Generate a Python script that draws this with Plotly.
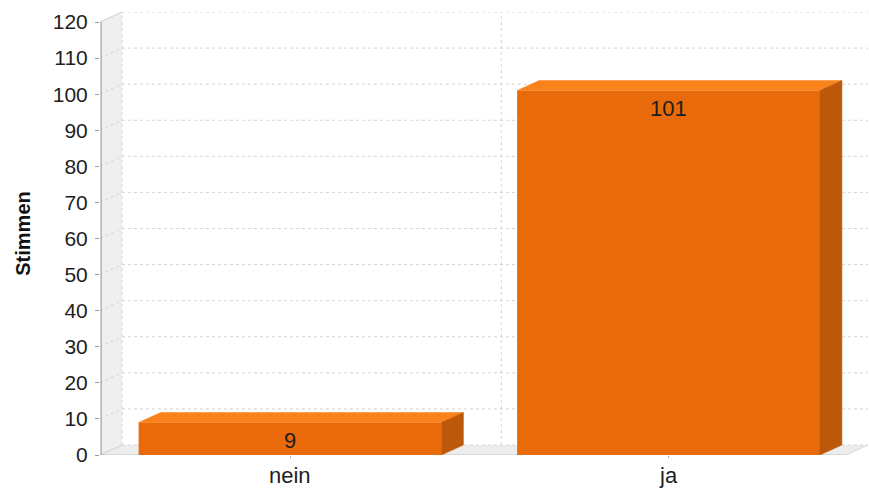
import plotly.graph_objects as go

# Vote counts per answer
categories = ["nein", "ja"]
votes = [9, 101]
y_ticks = list(range(0, 121, 10))
y_title = "Stimmen"

# 3D styling
FRONT = "#E96A0B"
TOP = "#F9821A"
SIDE = "#BC580A"
WALL = "#EFEFEF"
FLOOR = "#ECECEC"
GRID = "#D4D4D4"
FONT = "Liberation Sans, Arial, sans-serif"

bar_w = 0.8
x_lo, x_hi = -0.502, 1.527          # x-axis range (category units)
depth_x = 0.0581                    # receding depth, x units
depth_y = 2.77                      # receding depth, value units
y_top = max(y_ticks)
x_front_lo = x_lo
x_front_hi = x_hi - depth_x

fig = go.Figure()

# left wall
fig.add_shape(type="path", layer="below", line=dict(width=0), fillcolor=WALL,
              path=f"M{x_front_lo},0 L{x_front_lo},{y_top} L{x_front_lo+depth_x},{y_top+depth_y} "
                   f"L{x_front_lo+depth_x},{depth_y} Z")
# floor
fig.add_shape(type="path", layer="below", line=dict(width=0), fillcolor=FLOOR,
              path=f"M{x_front_lo},0 L{x_front_hi},0 L{x_front_hi+depth_x},{depth_y} "
                   f"L{x_front_lo+depth_x},{depth_y} Z")

# gridlines on the back wall and their diagonals across the left wall
for t in y_ticks:
    fig.add_shape(type="line", layer="below", x0=x_front_lo + depth_x, x1=x_hi,
                  y0=t + depth_y, y1=t + depth_y, line=dict(color=GRID, width=1, dash="dot"))
    if 0 < t < y_top:
        fig.add_shape(type="line", layer="below", x0=x_front_lo, x1=x_front_lo + depth_x,
                      y0=t, y1=t + depth_y, line=dict(color=GRID, width=1, dash="dot"))

# category separator on the back wall and back edge of the left wall
for xv in [0.5 + depth_x, x_front_lo + depth_x]:
    fig.add_shape(type="line", layer="below", x0=xv, x1=xv, y0=depth_y, y1=y_top + depth_y,
                  line=dict(color=GRID, width=1, dash="dot"))

# wall/floor edges
fig.add_shape(type="line", layer="below", x0=x_front_lo, x1=x_front_lo + depth_x,
              y0=y_top, y1=y_top + depth_y, line=dict(color="#CFCFCF", width=1))
fig.add_shape(type="line", layer="below", x0=x_front_lo, x1=x_front_lo + depth_x,
              y0=0, y1=depth_y, line=dict(color="#CFCFCF", width=1))
fig.add_shape(type="line", layer="below", x0=x_front_lo, x1=x_front_hi,
              y0=0, y1=0, line=dict(color="#C4C4C4", width=1))
fig.add_shape(type="line", layer="below", x0=x_front_hi, x1=x_front_hi + depth_x,
              y0=0, y1=depth_y, line=dict(color="#D8D8D8", width=1))

# front faces of the bars
xs = list(range(len(categories)))
fig.add_trace(go.Bar(x=xs, y=votes, width=bar_w, marker=dict(color=FRONT, line=dict(width=0)),
                     hoverinfo="skip", showlegend=False))

# top and side faces, value labels and category labels
for xc, v, cat in zip(xs, votes, categories):
    l, r = xc - bar_w / 2, xc + bar_w / 2
    fig.add_trace(go.Scatter(
        x=[l, l + depth_x, r + depth_x, r, l], y=[v, v + depth_y, v + depth_y, v, v],
        mode="lines", fill="toself", fillcolor=TOP, line=dict(color=TOP, width=0.5),
        hoverinfo="skip", showlegend=False))
    fig.add_trace(go.Scatter(
        x=[r, r, r + depth_x, r + depth_x, r], y=[0, v, v + depth_y, depth_y, 0],
        mode="lines", fill="toself", fillcolor=SIDE, line=dict(color=SIDE, width=0.5),
        hoverinfo="skip", showlegend=False))
    fig.add_annotation(x=xc, y=v, text=str(v), showarrow=False, yshift=-18,
                       font=dict(family=FONT, size=22, color="#1E1E1E"))
    fig.add_annotation(x=xc, y=0, text=cat, showarrow=False, yanchor="middle", yshift=-20,
                       font=dict(family=FONT, size=22, color="#1E1E1E"))

# front value axis line
fig.add_shape(type="line", xref="paper", x0=0.0015, x1=0.0015, y0=0, y1=y_top,
              line=dict(color="#9A9A9A", width=1))

fig.update_layout(
    width=869, height=488,
    margin=dict(l=100, r=1, t=12, b=33, autoexpand=False),
    paper_bgcolor="white", plot_bgcolor="white",
    showlegend=False,
    xaxis=dict(range=[x_lo, x_hi], tickvals=xs, showticklabels=False, automargin=False,
               showgrid=False, zeroline=False, showline=False,
               ticks="outside", ticklen=2, tickcolor="#B0B0B0"),
    yaxis=dict(range=[0, y_top + depth_y], tickvals=y_ticks, automargin=False,
               showgrid=False, zeroline=False, showline=False,
               ticks="outside", ticklen=4, tickcolor="#9A9A9A",
               ticklabelstandoff=3,
               tickfont=dict(family=FONT, size=21, color="#1E1E1E"),
               title=dict(text=y_title, standoff=16,
                          font=dict(family=FONT, size=20, color="#111111", weight="bold"))),
)

fig.write_html("out.html")
